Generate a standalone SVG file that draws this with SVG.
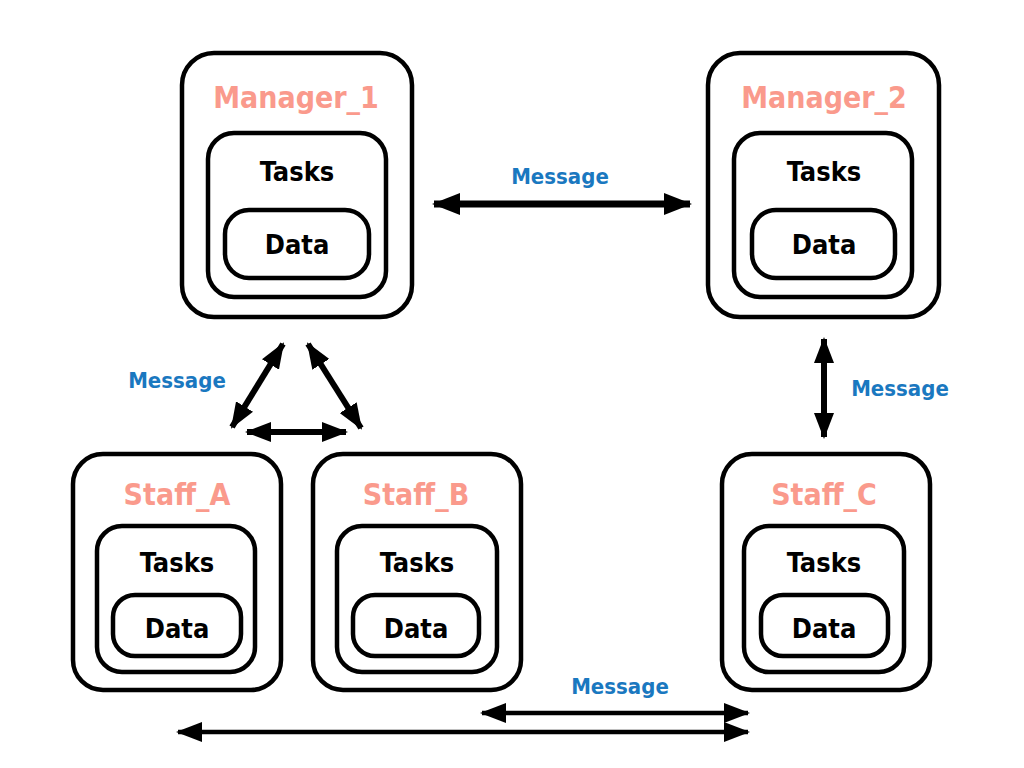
<svg xmlns="http://www.w3.org/2000/svg" width="1024" height="768" viewBox="0 0 1024 768">
<defs>
<style>
.box{fill:none;stroke:#000;stroke-width:4.5;stroke-linejoin:round}
.title{font-family:"Liberation Sans Narrow","DejaVu Sans Condensed","Liberation Sans",sans-serif;font-weight:bold;font-size:30px;fill:#fa9a8c;text-anchor:middle}
.lbl{font-family:"Liberation Sans Narrow","DejaVu Sans Condensed","Liberation Sans",sans-serif;font-weight:bold;font-size:27px;fill:#000;text-anchor:middle}
.msg{font-family:"Liberation Sans Narrow","DejaVu Sans Condensed","Liberation Sans",sans-serif;font-weight:bold;font-size:22px;fill:#1a78c0;text-anchor:middle}
.conn{fill:none;stroke:#000}
</style>
<marker id="hb" markerUnits="userSpaceOnUse" viewBox="0 0 28 22" refX="26" refY="11" markerWidth="28" markerHeight="22" orient="auto-start-reverse">
<path d="M0,0 L28,11 L0,22 Z" fill="#000"/>
</marker>
<marker id="hs" markerUnits="userSpaceOnUse" viewBox="0 0 26 20" refX="24" refY="10" markerWidth="26" markerHeight="20" orient="auto-start-reverse">
<path d="M0,0 L26,10 L0,20 Z" fill="#000"/>
</marker>
</defs>
<rect width="1024" height="768" fill="#fff"/>

<g id="manager_1">
<rect class="box" x="182" y="53" width="230" height="264" rx="32"/>
<rect class="box" x="208" y="133" width="178" height="164" rx="26"/>
<rect class="box" x="225" y="210" width="144" height="68" rx="24"/>
<text class="title" x="296" y="108">Manager_1</text>
<text class="lbl" x="297" y="181">Tasks</text>
<text class="lbl" x="297" y="254">Data</text>
</g>

<g id="manager_2">
<rect class="box" x="708" y="53" width="231" height="264" rx="32"/>
<rect class="box" x="734" y="133" width="178" height="164" rx="26"/>
<rect class="box" x="752" y="210" width="143" height="68" rx="24"/>
<text class="title" x="824" y="108">Manager_2</text>
<text class="lbl" x="824" y="181">Tasks</text>
<text class="lbl" x="824" y="254">Data</text>
</g>

<g id="staff_a">
<rect class="box" x="73" y="454" width="208" height="236" rx="30"/>
<rect class="box" x="97" y="526" width="158" height="146" rx="25"/>
<rect class="box" x="113" y="595" width="128" height="61" rx="22"/>
<text class="title" x="177" y="505">Staff_A</text>
<text class="lbl" x="177" y="572">Tasks</text>
<text class="lbl" x="177" y="638">Data</text>
</g>

<g id="staff_b">
<rect class="box" x="313" y="454" width="208" height="236" rx="30"/>
<rect class="box" x="337" y="526" width="160" height="146" rx="25"/>
<rect class="box" x="353" y="595" width="126" height="61" rx="22"/>
<text class="title" x="416" y="505">Staff_B</text>
<text class="lbl" x="417" y="572">Tasks</text>
<text class="lbl" x="416" y="638">Data</text>
</g>

<g id="staff_c">
<rect class="box" x="722" y="454" width="208" height="236" rx="30"/>
<rect class="box" x="744" y="526" width="160" height="146" rx="25"/>
<rect class="box" x="761" y="595" width="127" height="61" rx="22"/>
<text class="title" x="824" y="505">Staff_C</text>
<text class="lbl" x="824" y="572">Tasks</text>
<text class="lbl" x="824" y="638">Data</text>
</g>

<g id="connectors">
<line class="conn" x1="434" y1="204" x2="690" y2="204" stroke-width="7" marker-start="url(#hb)" marker-end="url(#hb)"/>
<line class="conn" x1="824" y1="339" x2="824" y2="437" stroke-width="6" marker-start="url(#hs)" marker-end="url(#hs)"/>
<line class="conn" x1="283" y1="344" x2="232" y2="427" stroke-width="6" marker-start="url(#hs)" marker-end="url(#hs)"/>
<line class="conn" x1="308" y1="344" x2="361" y2="428" stroke-width="6" marker-start="url(#hs)" marker-end="url(#hs)"/>
<line class="conn" x1="247" y1="432" x2="346" y2="432" stroke-width="6" marker-start="url(#hs)" marker-end="url(#hs)"/>
<line class="conn" x1="482" y1="713" x2="748" y2="713" stroke-width="4.5" marker-start="url(#hs)" marker-end="url(#hs)"/>
<line class="conn" x1="178" y1="732" x2="748" y2="732" stroke-width="4.5" marker-start="url(#hs)" marker-end="url(#hs)"/>
</g>

<g id="labels">
<text class="msg" x="560" y="184">Message</text>
<text class="msg" x="177" y="388">Message</text>
<text class="msg" x="900" y="396">Message</text>
<text class="msg" x="620" y="694">Message</text>
</g>
</svg>
